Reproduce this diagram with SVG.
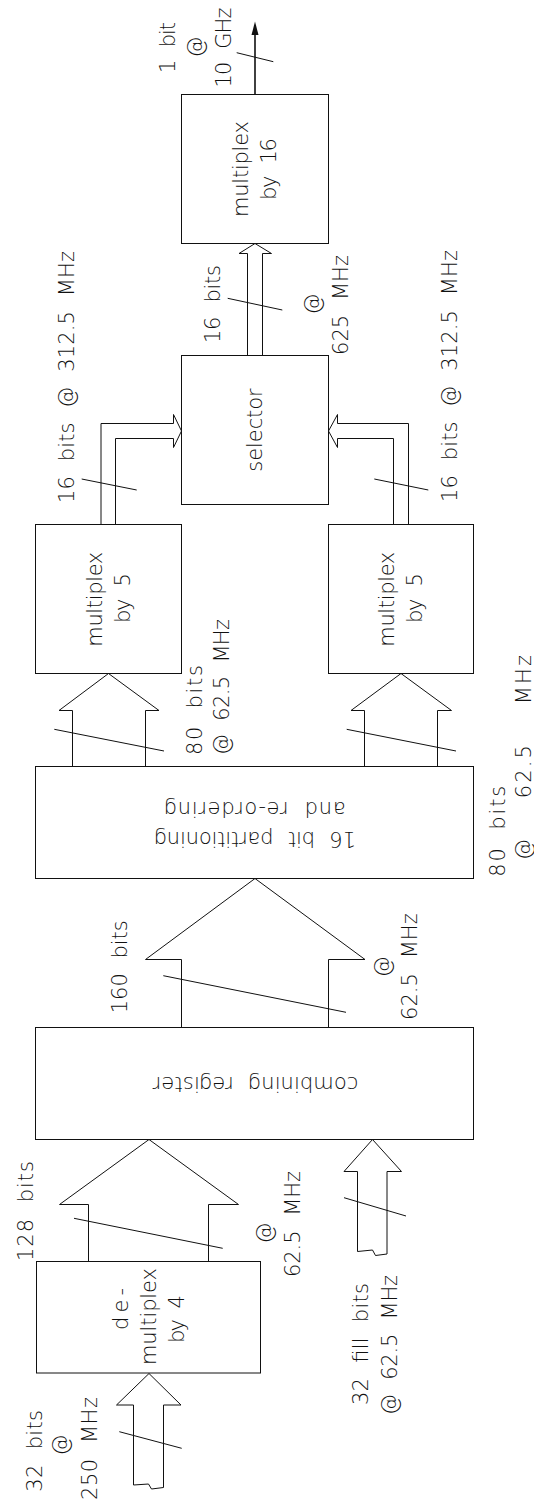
<svg xmlns="http://www.w3.org/2000/svg" width="534" height="1504" viewBox="0 0 534 1504">
<style>
.box{fill:#fff;stroke:#111;stroke-width:1}
.bus{fill:none;stroke:#111;stroke-width:1;stroke-linejoin:miter}
.sl{stroke:#111;stroke-width:1}
.t{font-family:'DejaVu Sans','Liberation Sans',sans-serif;font-size:21px;font-weight:200;fill:#111;word-spacing:8px}
.m{text-anchor:middle}
</style>
<rect width="534" height="1504" fill="#fff"/>
<g id="connectors">
<line class="sl" x1="255" y1="94.5" x2="255" y2="32" style="stroke-width:1.6"/>
<polygon points="255,21.5 258.5,35 251.5,35" fill="#111"/>
<line class="sl" x1="236.7" y1="52.7" x2="273.3" y2="61.7"/>
<path class="bus" d="M247.5,355.5 V253.5 H239 L255,243.5 L271.5,253.5 H262.5 V355.5"/>
<line class="sl" x1="227.7" y1="298.3" x2="282.3" y2="310"/>
<path class="bus" d="M101,524.5 V423.5 H173.5 V414.5 L181.5,431 L173.5,447.5 V438.5 H115.5 V524.5"/>
<line class="sl" x1="81.7" y1="479" x2="136.7" y2="490"/>
<path class="bus" d="M408.5,524.5 V423.5 H337.5 V414.5 L328.5,431 L337.5,447.5 V438.5 H393.5 V524.5"/>
<line class="sl" x1="374.3" y1="479" x2="428.3" y2="490"/>
<path class="bus" d="M72.5,766.5 V710.5 H59 L108.5,673.5 L159,710.5 H145.5 V766.5"/>
<line class="sl" x1="54.3" y1="729.3" x2="164" y2="751"/>
<path class="bus" d="M364.5,766.5 V710.5 H351 L401,673.5 L451.5,710.5 H437.5 V766.5"/>
<line class="sl" x1="346.7" y1="729.3" x2="456" y2="751"/>
<path class="bus" d="M181.5,1027.5 V959.5 H145.5 L255,878.5 L365,959.5 H328.5 V1027.5"/>
<line class="sl" x1="163.3" y1="975.7" x2="346" y2="1012.3"/>
<path class="bus" d="M88.5,1261.5 V1204.5 H59.5 L149,1139.5 L238.5,1204.5 H208.5 V1261.5"/>
<line class="sl" x1="74" y1="1218.3" x2="222.7" y2="1248.3"/>
<path class="bus" d="M357.5,1251.5 L372.5,1250 L375.5,1255.5 L387,1254 V1171.5 H401.5 L372.5,1139.5 L344,1171.5 H357.5 Z"/>
<line class="sl" x1="344" y1="1197.7" x2="406" y2="1216"/>
<path class="bus" d="M133.5,1485 L148.5,1484 L151.5,1489 L163.5,1487.5 V1405 H181 L149,1373.5 L116.5,1405 H133.5 Z"/>
<line class="sl" x1="119.3" y1="1431.7" x2="181.7" y2="1448.3"/>
</g>
<g id="labels">
<text class="t" transform="translate(175,73) rotate(-90)" textLength="51" lengthAdjust="spacing">1 bit</text>
<text class="t m" transform="translate(202.5,47) rotate(-90)">@</text>
<text class="t" transform="translate(230.5,87.5) rotate(-90)" textLength="80" lengthAdjust="spacing">10 GHz</text>
<text class="t" transform="translate(220,343) rotate(-90)" textLength="78" lengthAdjust="spacing">16 bits</text>
<text class="t m" transform="translate(320,304) rotate(-90)">@</text>
<text class="t" transform="translate(347.5,355) rotate(-90)" textLength="100" lengthAdjust="spacing">625 MHz</text>
<text class="t" transform="translate(73.5,503) rotate(-90)" textLength="252" lengthAdjust="spacing">16 bits @ 312.5 MHz</text>
<text class="t" transform="translate(457,502) rotate(-90)" textLength="252" lengthAdjust="spacing">16 bits @ 312.5 MHz</text>
<text class="t" transform="translate(201.7,755) rotate(-90)" textLength="90" lengthAdjust="spacing">80 bits</text>
<text class="t" transform="translate(229.3,755) rotate(-90)" textLength="136" lengthAdjust="spacing">@ 62.5 MHz</text>
<text class="t" transform="translate(505,876.7) rotate(-90)" textLength="91" lengthAdjust="spacing">80 bits</text>
<text class="t" transform="translate(531,860) rotate(-90)" textLength="205" lengthAdjust="spacing" style="word-spacing:30px">@ 62.5 MHz</text>
<text class="t" transform="translate(127.3,1013.3) rotate(-90)" textLength="93" lengthAdjust="spacing">160 bits</text>
<text class="t m" transform="translate(390,966.7) rotate(-90)">@</text>
<text class="t" transform="translate(417.3,1020) rotate(-90)" textLength="106.7" lengthAdjust="spacing">62.5 MHz</text>
<text class="t" transform="translate(33.3,1261) rotate(-90)" textLength="100" lengthAdjust="spacing">128 bits</text>
<text class="t m" transform="translate(271.7,1233) rotate(-90)">@</text>
<text class="t" transform="translate(300,1277) rotate(-90)" textLength="106" lengthAdjust="spacing">62.5 MHz</text>
<text class="t" transform="translate(368.3,1405) rotate(-90)" textLength="122" lengthAdjust="spacing">32 fill bits</text>
<text class="t" transform="translate(396.7,1415) rotate(-90)" textLength="140" lengthAdjust="spacing">@ 62.5 MHz</text>
<text class="t" transform="translate(41.7,1491.7) rotate(-90)" textLength="81.7" lengthAdjust="spacing">32 bits</text>
<text class="t m" transform="translate(68,1445) rotate(-90)">@</text>
<text class="t" transform="translate(96.7,1500) rotate(-90)" textLength="103" lengthAdjust="spacing">250 MHz</text>
</g>
<g id="n-mux16">
<rect class="box" x="181.5" y="94.5" width="147" height="149"/>
<text class="t" transform="translate(248,217) rotate(-90)" textLength="96" lengthAdjust="spacing">multiplex</text>
<text class="t" transform="translate(276,200) rotate(-90)" textLength="62" lengthAdjust="spacing">by 16</text>
</g>
<g id="n-selector">
<rect class="box" x="181.5" y="355.5" width="147" height="149"/>
<text class="t" transform="translate(262.3,471.7) rotate(-90)" textLength="83.4" lengthAdjust="spacing">selector</text>
</g>
<g id="n-mux5a">
<rect class="box" x="35.5" y="524.5" width="146" height="149"/>
<text class="t" transform="translate(101.7,646.7) rotate(-90)" textLength="95" lengthAdjust="spacing">multiplex</text>
<text class="t" transform="translate(129.7,623) rotate(-90)" textLength="50" lengthAdjust="spacing">by 5</text>
</g>
<g id="n-mux5b">
<rect class="box" x="328.5" y="524.5" width="145" height="149"/>
<text class="t" transform="translate(394.3,646.7) rotate(-90)" textLength="95" lengthAdjust="spacing">multiplex</text>
<text class="t" transform="translate(422.3,623) rotate(-90)" textLength="50" lengthAdjust="spacing">by 5</text>
</g>
<g id="n-partition">
<rect class="box" x="35.5" y="766.5" width="438" height="112"/>
<text class="t" transform="translate(356,831.7) rotate(180)" textLength="201.7" lengthAdjust="spacing">16 bit partitioning</text>
<text class="t" transform="translate(345.7,801.7) rotate(180)" textLength="181.4" lengthAdjust="spacing">and re-ordering</text>
</g>
<g id="n-combining">
<rect class="box" x="35.5" y="1027.5" width="438" height="112"/>
<text class="t" transform="translate(358.3,1077) rotate(180)" textLength="205.6" lengthAdjust="spacing">combining register</text>
</g>
<g id="n-demux">
<rect class="box" x="36.5" y="1261.5" width="224" height="111.5"/>
<text class="t" transform="translate(127.5,1330) rotate(-90)" textLength="42" lengthAdjust="spacing">de-</text>
<text class="t" transform="translate(155.5,1365) rotate(-90)" textLength="97" lengthAdjust="spacing">multiplex</text>
<text class="t" transform="translate(183.5,1343) rotate(-90)" textLength="48" lengthAdjust="spacing">by 4</text>
</g>
</svg>
